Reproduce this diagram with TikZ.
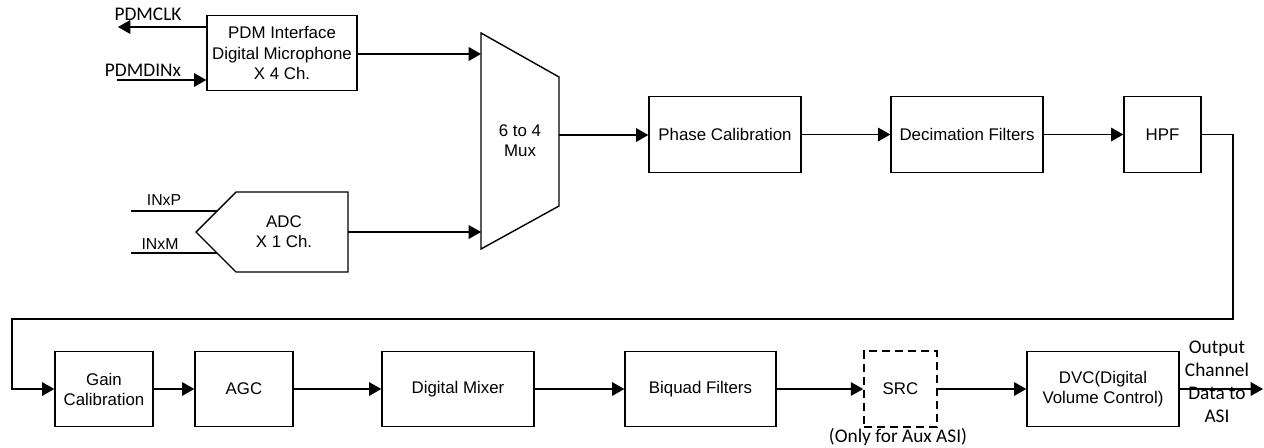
\documentclass[tikz,border=0pt]{standalone}
\usepackage{fontspec}
\setmainfont{Liberation Sans}
\newfontfamily\calfont{Carlito}
\usetikzlibrary{arrows.meta,positioning,calc}
\tikzset{
 blk/.style={draw,line width=0.8pt,align=center,minimum height=1.51cm,inner sep=1pt,
  font=\fontsize{9.6}{11.4}\selectfont},
 sig/.style={-{Triangle[length=7pt,width=7.8pt]},line width=0.6pt},
 wire/.style={line width=0.6pt},
 pin/.style={font=\calfont\fontsize{11}{13}\selectfont,inner sep=0pt,align=center},
 txt/.style={font=\fontsize{9.6}{11.4}\selectfont,inner sep=0pt,align=center}}

\begin{document}
\begin{tikzpicture}[x=0.02cm,y=-0.02cm]
 \useasboundingbox (0,0) rectangle (1264,447);
 % top row
 \node[blk,minimum width=3.0cm] (pdm) at (282,53) {PDM Interface\\Digital Microphone\\X 4 Ch.};
 \node[blk,minimum width=3.04cm] (phase) at (725,134.5) {Phase Calibration};
 \node[blk,minimum width=3.04cm] (dec) at (967,134.5) {Decimation Filters};
 \node[blk,minimum width=1.54cm] (hpf) at (1162.5,134.5) {HPF};
 % mux and adc outlines
 \coordinate (muxtl) at (481,33); \coordinate (muxtr) at (559,77);
 \coordinate (muxbr) at (559,206); \coordinate (muxbl) at (481,249);
 \draw[line width=0.8pt] (muxtl) -- (muxtr) -- (muxbr) -- (muxbl) -- cycle;
 \node[txt] (mux) at (520,141) {6 to 4\\Mux};
 \coordinate (muxa) at (481,54); \coordinate (muxb) at (481,232);
 \coordinate (muxo) at (559,135);
 \coordinate (adctip) at (196,232); \coordinate (adco) at (348,232);
 \draw[line width=0.8pt] (adctip) -- (236,192) -- (348,192) -- (348,272) -- (236,272) -- cycle;
 \node[txt] (adc) at (284,232) {ADC\\X 1 Ch.};
 % pins
 \coordinate (clk) at (118,27); \coordinate (din) at (117,80);
 \coordinate (inp) at (131,211); \coordinate (inpe) at (217,211);
 \coordinate (inm) at (131,253); \coordinate (inme) at (217,253);
 \node[pin] (clkl) at (148,14) {PDMCLK};
 \node[pin] (dinl) at (143,70) {PDMDINx};
 \node[txt,font=\fontsize{9}{11}\selectfont] (inpl) at (164,200) {INxP};
 \node[txt,font=\fontsize{9}{11}\selectfont] (inml) at (160,244) {INxM};
 \draw[sig] (pdm.west |- clk) -- (clk);
 \draw[sig] (din) -- (pdm.west |- din);
 \draw[wire] (inp) -- (inpe);
 \draw[wire] (inm) -- (inme);
 \draw[sig] (pdm.east |- muxa) -- (muxa);
 \draw[sig] (adco) -- (muxb);
 \draw[sig] (muxo) -- (phase.west |- muxo);
 \draw[sig] (phase) -- (dec);
 \draw[sig] (dec) -- (hpf);
 % bottom row
 \node[blk,minimum width=1.96cm] (gain) at (104,389) {Gain\\Calibration};
 \node[blk,minimum width=1.96cm] (agc) at (244,389) {AGC};
 \node[blk,minimum width=3.04cm] (mixer) at (458,389) {Digital Mixer};
 \node[blk,minimum width=3.02cm] (biquad) at (700.5,389) {Biquad Filters};
 \node[blk,minimum width=1.46cm,line width=1pt,dash pattern=on 4.6pt off 2.8pt] (src) at (900.5,389) {SRC};
 \node[blk,minimum width=3.04cm] (dvc) at (1103,389) {DVC(Digital\\Volume Control)};
 \node[pin] (srcl) at (898,437) {(Only for Aux ASI)};
 \node[pin] (outl) at (1217,382) {Output\\Channel\\Data to\\ASI};
 \coordinate (outp) at (1263,389);
 \coordinate (rt) at (1233,319); \coordinate (lt) at (12,319);
 \draw[sig] (hpf.east) -| (rt) -- (lt) |- (gain.west);
 \draw[sig] (gain) -- (agc);
 \draw[sig] (agc) -- (mixer);
 \draw[sig] (mixer) -- (biquad);
 \draw[sig] (biquad) -- (src);
 \draw[sig] (src) -- (dvc);
 \draw[sig] (dvc) -- (outp);
\end{tikzpicture}
\end{document}
